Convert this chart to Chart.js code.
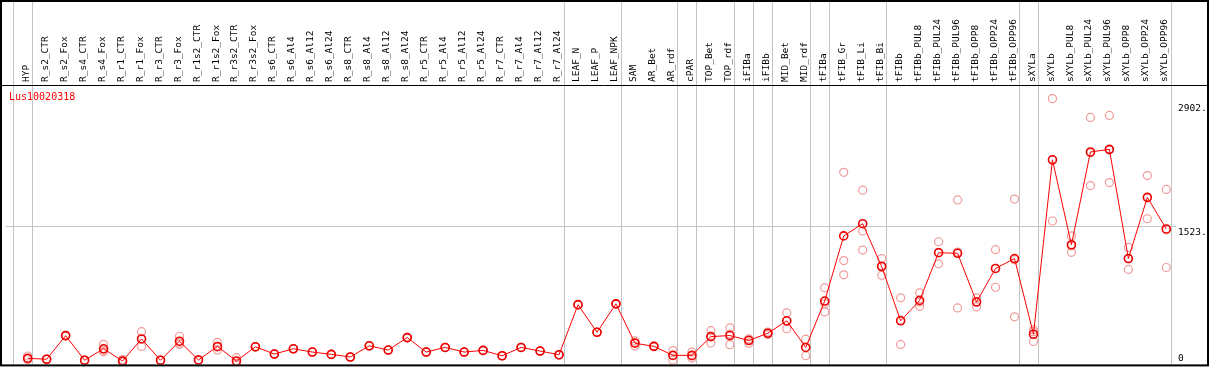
<!DOCTYPE html>
<html>
<head>
<meta charset="utf-8">
<script src="https://cdn.jsdelivr.net/npm/chart.js@4/dist/chart.umd.min.js"></script>
<style>
  html, body { margin: 0; padding: 0; background: #fff; }
  #wrap { width: 1209px; height: 370px; }
</style>
</head>
<body>
<div id="wrap"><canvas id="chart" width="1209" height="370"></canvas></div>
<script>
const geneName = "Lus10020318";

const categories = [
  "HYP", "R_s2_CTR", "R_s2_Fox", "R_s4_CTR", "R_s4_Fox", "R_r1_CTR", "R_r1_Fox",
  "R_r3_CTR", "R_r3_Fox", "R_r1s2_CTR", "R_r1s2_Fox", "R_r3s2_CTR", "R_r3s2_Fox",
  "R_s6_CTR", "R_s6_Al4", "R_s6_Al12", "R_s6_Al24", "R_s8_CTR", "R_s8_Al4",
  "R_s8_Al12", "R_s8_Al24", "R_r5_CTR", "R_r5_Al4", "R_r5_Al12", "R_r5_Al24",
  "R_r7_CTR", "R_r7_Al4", "R_r7_Al12", "R_r7_Al24", "LEAF_N", "LEAF_P", "LEAF_NPK",
  "SAM", "AR_Bet", "AR_rdf", "cPAR", "TOP_Bet", "TOP_rdf", "iFIBa", "iFIBb",
  "MID_Bet", "MID_rdf", "tFIBa", "tFIB_Gr", "tFIB_Li", "tFIB_Bi", "tFIBb",
  "tFIBb_PUL8", "tFIBb_PUL24", "tFIBb_PUL96", "tFIBb_OPP8", "tFIBb_OPP24",
  "tFIBb_OPP96", "sXYLa", "sXYLb", "sXYLb_PUL8", "sXYLb_PUL24", "sXYLb_PUL96",
  "sXYLb_OPP8", "sXYLb_OPP24", "sXYLb_OPP96"
];

// mean expression per sample
const meanValues = [
  68, 57, 319, 46, 173, 38, 282, 46, 257, 49, 199, 38, 195,
  115, 173, 137, 111, 82, 206, 159, 297, 137, 188, 137, 155,
  96, 188, 148, 107, 662, 356, 671,
  235, 200, 100, 100, 308, 320, 265, 345, 483, 188,
  702, 1424, 1559, 1085, 483, 709, 1238, 1231, 691, 1063, 1173,
  334, 2267, 1326, 2354, 2383, 1173, 1851, 1501
];

// individual replicates
const rep1 = [
  93, 57, 319, 46, 222, 24, 363, 46, 312, 49, 245, 74, 195,
  115, 173, 137, 111, 82, 206, 159, 297, 137, 188, 137, 155,
  96, 188, 148, 107, 662, 356, 671,
  260, 200, 153, 137, 374, 405, 282, 359, 571, 279,
  848, 2128, 1931, 1173, 738, 793, 1359, 1822, 738, 1271, 1832,
  385, 2945, 1424, 2737, 2759, 1296, 2092, 1939
];
const rep2 = [
  56, 55, 315, 44, 139, 37, 199, 45, 221, 48, 160, 9, 193,
  113, 171, 135, 110, 80, 204, 157, 295, 135, 186, 136, 153,
  95, 186, 146, 105, 660, 354, 669,
  203, 198, 47, 70, 237, 219, 235, 330, 396, 96,
  582, 1151, 1479, 987, 221, 643, 1114, 626, 637, 855, 527,
  254, 1589, 1242, 1982, 2015, 1052, 1614, 1074
];
const rep3 = [
  55, 59, 323, 48, 158, 53, 284, 47, 238, 50, 192, 31, 197,
  117, 175, 139, 112, 84, 208, 161, 299, 139, 190, 138, 157,
  97, 190, 150, 109, 664, 358, 673,
  242, 202, 100, 93, 313, 336, 278, 346, 482, 189,
  676, 993, 1267, 1095, 490, 691, 1241, 1245, 698, 1063, 1160,
  363, 2267, 1312, 2343, 2375, 1171, 1847, 1490
];

const yTicks = [0, 1523, 2902];
const yTickLabels = ["0", "1523.", "2902."];

// sample index after which a group separator is drawn
const groupEnds = [-1, 0, 28, 31, 34, 35, 37, 38, 39, 41, 42, 45, 52, 53, 60];

const labelFont = { family: "'DejaVu Sans Mono', monospace", size: 9.5 };

const meanPoints = meanValues.map((v, i) => ({ x: i, y: v }));
const repPoints = [];
[rep1, rep2, rep3].forEach(arr => arr.forEach((v, i) => repPoints.push({ x: i, y: v })));

const framePlugin = {
  id: "frame",
  beforeDatasetsDraw(chart) {
    const { ctx, chartArea, scales } = chart;
    ctx.save();
    ctx.strokeStyle = "#c4c4c4";
    ctx.lineWidth = 1;
    groupEnds.forEach(i => {
      const x = Math.round(scales.x.getPixelForValue(i + 0.24)) + 0.5;
      ctx.beginPath();
      ctx.moveTo(x, 0);
      ctx.lineTo(x, chartArea.bottom);
      ctx.stroke();
    });
    ctx.restore();
  },
  afterDraw(chart) {
    const { ctx, chartArea, scales } = chart;
    ctx.save();
    ctx.strokeStyle = "#000";
    ctx.lineWidth = 2;
    ctx.strokeRect(1, 1, chart.width - 2, chartArea.bottom);
    ctx.lineWidth = 1;
    ctx.beginPath();
    ctx.moveTo(0, chartArea.top + 0.5);
    ctx.lineTo(chart.width, chartArea.top + 0.5);
    ctx.stroke();

    // y tick labels, sitting just under their value
    ctx.font = `${labelFont.size}px ${labelFont.family}`;
    ctx.fillStyle = "#000";
    ctx.textAlign = "left";
    yTicks.forEach((v, k) => {
      const y = scales.y.getPixelForValue(v);
      if (y + 12 > chartArea.bottom) {
        ctx.textBaseline = "bottom";
        ctx.fillText(yTickLabels[k], chartArea.right + 2, chartArea.bottom - 1);
      } else {
        ctx.textBaseline = "top";
        ctx.fillText(yTickLabels[k], chartArea.right + 2, y + 1);
      }
    });

    ctx.font = `10px ${labelFont.family}`;
    ctx.fillStyle = "#ff0000";
    ctx.textBaseline = "top";
    ctx.fillText(geneName, 9, chartArea.top + 7);
    ctx.restore();
  }
};

new Chart(document.getElementById("chart"), {
  type: "scatter",
  data: {
    datasets: [
      {
        data: meanPoints,
        showLine: true,
        borderColor: "#ff0000",
        borderWidth: 1,
        pointRadius: 4,
        pointBorderWidth: 1.6,
        pointBorderColor: "#ee0000",
        pointBackgroundColor: "rgba(0,0,0,0)",
        tension: 0
      },
      {
        data: repPoints,
        showLine: false,
        pointRadius: 4,
        pointBorderWidth: 1.2,
        pointBorderColor: "#f19a9a",
        pointBackgroundColor: "rgba(0,0,0,0)"
      }
    ]
  },
  options: {
    responsive: false,
    animation: false,
    layout: { padding: { top: 1, left: 2, right: 1, bottom: 2 } },
    plugins: {
      legend: { display: false },
      tooltip: { enabled: false }
    },
    scales: {
      x: {
        type: "linear",
        position: "top",
        min: -1.163,
        max: 60.51,
        afterBuildTicks(scale) {
          scale.ticks = categories.map((c, i) => ({ value: i }));
        },
        afterFit(scale) {
          scale.height = 84;
          scale.paddingLeft = 0;
          scale.paddingRight = 0;
        },
        grid: { display: false, drawTicks: false },
        border: { display: false },
        ticks: {
          autoSkip: false,
          minRotation: 90,
          maxRotation: 90,
          padding: 3,
          labelOffset: 10,
          color: "#000",
          font: labelFont,
          callback: v => categories[v] ?? ""
        }
      },
      y: {
        position: "right",
        min: 0,
        max: 3096,
        afterBuildTicks(scale) {
          scale.ticks = yTicks.map(v => ({ value: v }));
        },
        afterFit(scale) {
          scale.width = 32;
          scale.paddingTop = 0;
          scale.paddingBottom = 0;
        },
        grid: {
          drawTicks: false,
          color: ctx => (ctx.tick && ctx.tick.value === 1523 ? "#c4c4c4" : "rgba(0,0,0,0)")
        },
        border: { display: false },
        ticks: { display: false }
      }
    }
  },
  plugins: [framePlugin]
});
</script>
</body>
</html>
